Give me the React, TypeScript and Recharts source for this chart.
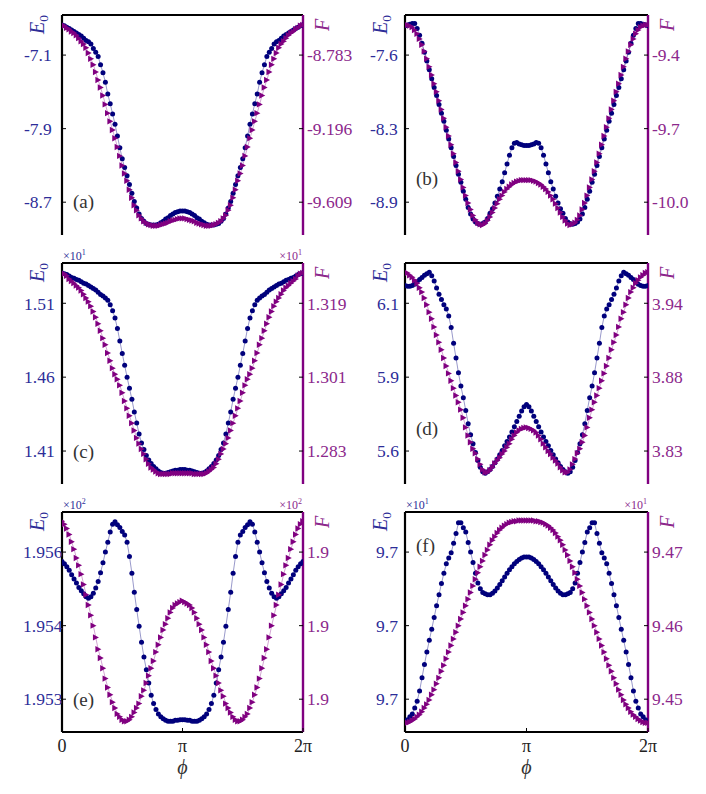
import React from 'react'
import { LineChart, Line, XAxis, YAxis, ReferenceLine } from 'recharts'

// phi grid: 101 samples over [0, 2pi]
const STEPS = 100
const phi = Array.from({ length: STEPS + 1 }, (_, k) => (2 * Math.PI * k) / STEPS)

// panel (a)
const e0A = [
  -6.772, -6.78, -6.796, -6.812, -6.828, -6.844, -6.86, -6.876, -6.892, -6.916,
  -6.94, -6.956, -6.98, -7.028, -7.068, -7.116, -7.204, -7.292, -7.396, -7.524,
  -7.628, -7.74, -7.852, -7.98, -8.108, -8.228, -8.324, -8.412, -8.508, -8.604,
  -8.692, -8.764, -8.828, -8.876, -8.908, -8.932, -8.94, -8.948, -8.948, -8.948,
  -8.94, -8.924, -8.908, -8.884, -8.868, -8.844, -8.828, -8.812, -8.804, -8.796,
  -8.796,
  -8.796, -8.804, -8.812, -8.828, -8.844, -8.868, -8.884, -8.908, -8.924, -8.94,
  -8.948, -8.948, -8.948, -8.94, -8.932, -8.908, -8.876, -8.828, -8.764, -8.692,
  -8.604, -8.508, -8.412, -8.324, -8.228, -8.108, -7.98, -7.852, -7.74, -7.628,
  -7.524, -7.396, -7.292, -7.204, -7.116, -7.068, -7.028, -6.98, -6.956, -6.94,
  -6.916, -6.892, -6.876, -6.86, -6.844, -6.828, -6.812, -6.796, -6.78, -6.772,
]
const fA = [
  -8.614, -8.618, -8.63, -8.638, -8.651, -8.659, -8.672, -8.688, -8.705, -8.721,
  -8.742, -8.771, -8.804, -8.837, -8.878, -8.923, -8.965, -9.01, -9.06, -9.109,
  -9.155, -9.204, -9.25, -9.299, -9.349, -9.403, -9.448, -9.489, -9.539, -9.584,
  -9.626, -9.654, -9.683, -9.7, -9.716, -9.725, -9.733, -9.737, -9.741, -9.741,
  -9.741, -9.737, -9.733, -9.729, -9.725, -9.716, -9.712, -9.708, -9.704, -9.7,
  -9.7,
  -9.7, -9.704, -9.708, -9.712, -9.716, -9.725, -9.729, -9.733, -9.737, -9.741,
  -9.741, -9.741, -9.737, -9.733, -9.725, -9.716, -9.7, -9.683, -9.654, -9.626,
  -9.584, -9.539, -9.489, -9.448, -9.403, -9.349, -9.299, -9.25, -9.204, -9.155,
  -9.109, -9.06, -9.01, -8.965, -8.923, -8.878, -8.837, -8.804, -8.771, -8.742,
  -8.721, -8.705, -8.688, -8.672, -8.659, -8.651, -8.638, -8.63, -8.618, -8.614,
]

// panel (b)
const e0B = [
  -7.308, -7.301, -7.294, -7.288, -7.288, -7.335, -7.396, -7.471, -7.553, -7.634,
  -7.716, -7.798, -7.879, -7.954, -8.036, -8.117, -8.192, -8.274, -8.355, -8.437,
  -8.518, -8.6, -8.682, -8.756, -8.838, -8.913, -8.988, -9.049, -9.096, -9.124,
  -9.137, -9.144, -9.137, -9.124, -9.09, -9.042, -9.001, -8.947, -8.886, -8.818,
  -8.75, -8.668, -8.586, -8.505, -8.437, -8.396, -8.389, -8.403, -8.41, -8.416,
  -8.416,
  -8.416, -8.41, -8.403, -8.389, -8.396, -8.437, -8.505, -8.586, -8.668, -8.75,
  -8.818, -8.886, -8.947, -9.001, -9.042, -9.09, -9.124, -9.137, -9.144, -9.137,
  -9.124, -9.096, -9.049, -8.988, -8.913, -8.838, -8.756, -8.682, -8.6, -8.518,
  -8.437, -8.355, -8.274, -8.192, -8.117, -8.036, -7.954, -7.879, -7.798, -7.716,
  -7.634, -7.553, -7.471, -7.396, -7.335, -7.288, -7.288, -7.294, -7.301, -7.308,
]
const fB = [
  -9.277, -9.277, -9.28, -9.286, -9.298, -9.313, -9.334, -9.358, -9.385, -9.415,
  -9.448, -9.481, -9.517, -9.55, -9.586, -9.622, -9.658, -9.694, -9.73, -9.766,
  -9.802, -9.838, -9.874, -9.907, -9.94, -9.973, -10.003, -10.03, -10.054, -10.072,
  -10.084, -10.09, -10.093, -10.087, -10.075, -10.06, -10.042, -10.024, -10.006, -9.988,
  -9.973, -9.958, -9.946, -9.937, -9.928, -9.922, -9.916, -9.913, -9.91, -9.91,
  -9.91,
  -9.91, -9.91, -9.913, -9.916, -9.922, -9.928, -9.937, -9.946, -9.958, -9.973,
  -9.988, -10.006, -10.024, -10.042, -10.06, -10.075, -10.087, -10.093, -10.09, -10.084,
  -10.072, -10.054, -10.03, -10.003, -9.973, -9.94, -9.907, -9.874, -9.838, -9.802,
  -9.766, -9.73, -9.694, -9.658, -9.622, -9.586, -9.55, -9.517, -9.481, -9.448,
  -9.415, -9.385, -9.358, -9.334, -9.313, -9.298, -9.286, -9.28, -9.277, -9.277,
]

// panel (c), in units of 10^1
const e0C = [
  1.5305, 1.53, 1.5295, 1.5285, 1.5275, 1.527, 1.526, 1.5255, 1.5245, 1.5235,
  1.523, 1.522, 1.521, 1.52, 1.519, 1.5175, 1.516, 1.515, 1.5135, 1.512,
  1.509, 1.505, 1.5, 1.493, 1.4845, 1.476, 1.468, 1.46, 1.4525, 1.445,
  1.4365, 1.429, 1.4215, 1.4155, 1.411, 1.407, 1.404, 1.4015, 1.3995, 1.398,
  1.3965, 1.3955, 1.395, 1.395, 1.3955, 1.396, 1.3965, 1.397, 1.397, 1.3975,
  1.3975,
  1.3975, 1.397, 1.397, 1.3965, 1.396, 1.3955, 1.395, 1.395, 1.3955, 1.3965,
  1.398, 1.3995, 1.4015, 1.404, 1.407, 1.411, 1.4155, 1.4215, 1.429, 1.4365,
  1.445, 1.4525, 1.46, 1.468, 1.476, 1.4845, 1.493, 1.5, 1.505, 1.509,
  1.512, 1.5135, 1.515, 1.516, 1.5175, 1.519, 1.52, 1.521, 1.522, 1.523,
  1.5235, 1.5245, 1.5255, 1.526, 1.527, 1.5275, 1.5285, 1.5295, 1.53, 1.5305,
]
const fC = [
  1.3264, 1.3262, 1.3257, 1.3249, 1.3244, 1.3239, 1.3233, 1.3228, 1.3221, 1.3212,
  1.3203, 1.3194, 1.3183, 1.317, 1.3156, 1.314, 1.3123, 1.3105, 1.3089, 1.3069,
  1.305, 1.3032, 1.3017, 1.3005, 1.299, 1.2972, 1.2952, 1.2934, 1.2916, 1.2898,
  1.288, 1.2862, 1.2848, 1.2835, 1.2823, 1.281, 1.2799, 1.279, 1.2785, 1.278,
  1.2776, 1.2774, 1.2774, 1.2774, 1.2774, 1.2774, 1.2776, 1.2776, 1.2776, 1.2776,
  1.2776,
  1.2776, 1.2776, 1.2776, 1.2776, 1.2774, 1.2774, 1.2774, 1.2774, 1.2774, 1.2776,
  1.278, 1.2785, 1.279, 1.2799, 1.281, 1.2823, 1.2835, 1.2848, 1.2862, 1.288,
  1.2898, 1.2916, 1.2934, 1.2952, 1.2972, 1.299, 1.3005, 1.3017, 1.3032, 1.305,
  1.3069, 1.3089, 1.3105, 1.3123, 1.314, 1.3156, 1.317, 1.3183, 1.3194, 1.3203,
  1.3212, 1.3221, 1.3228, 1.3233, 1.3239, 1.3244, 1.3249, 1.3257, 1.3262, 1.3264,
]

// panel (d)
const e0D = [
  6.158, 6.155, 6.155, 6.158, 6.162, 6.17, 6.177, 6.184, 6.191, 6.196,
  6.201, 6.189, 6.172, 6.15, 6.129, 6.112, 6.095, 6.081, 6.059, 6.021,
  5.97, 5.922, 5.874, 5.831, 5.793, 5.752, 5.709, 5.673, 5.644, 5.615,
  5.589, 5.567, 5.553, 5.548, 5.553, 5.56, 5.57, 5.582, 5.594, 5.608,
  5.622, 5.637, 5.651, 5.666, 5.682, 5.699, 5.716, 5.733, 5.75, 5.764,
  5.771,
  5.764, 5.75, 5.733, 5.716, 5.699, 5.682, 5.666, 5.651, 5.637, 5.622,
  5.608, 5.594, 5.582, 5.57, 5.56, 5.553, 5.548, 5.553, 5.567, 5.589,
  5.615, 5.644, 5.673, 5.709, 5.752, 5.793, 5.831, 5.874, 5.922, 5.97,
  6.021, 6.059, 6.081, 6.095, 6.112, 6.129, 6.15, 6.172, 6.189, 6.201,
  6.196, 6.191, 6.184, 6.177, 6.17, 6.162, 6.158, 6.155, 6.155, 6.158,
]
const fD = [
  3.9611, 3.9606, 3.9589, 3.9573, 3.9551, 3.9529, 3.9496, 3.9463, 3.9419, 3.9369,
  3.9314, 3.9265, 3.9204, 3.9144, 3.9089, 3.9034, 3.8973, 3.8913, 3.8858, 3.8803,
  3.8748, 3.8693, 3.8643, 3.8588, 3.8528, 3.8456, 3.8396, 3.8346, 3.8297, 3.8264,
  3.822, 3.8181, 3.8143, 3.8121, 3.8121, 3.8137, 3.8159, 3.8187, 3.8209, 3.8231,
  3.8258, 3.828, 3.8308, 3.8335, 3.8368, 3.8396, 3.8418, 3.8434, 3.8445, 3.8451,
  3.8456,
  3.8451, 3.8445, 3.8434, 3.8418, 3.8396, 3.8368, 3.8335, 3.8308, 3.828, 3.8258,
  3.8231, 3.8209, 3.8187, 3.8159, 3.8137, 3.8121, 3.8121, 3.8143, 3.8181, 3.822,
  3.8264, 3.8297, 3.8346, 3.8396, 3.8456, 3.8528, 3.8588, 3.8643, 3.8693, 3.8748,
  3.8803, 3.8858, 3.8913, 3.8973, 3.9034, 3.9089, 3.9144, 3.9204, 3.9265, 3.9314,
  3.9369, 3.9419, 3.9463, 3.9496, 3.9529, 3.9551, 3.9573, 3.9589, 3.9606, 3.9611,
]

// panel (e), in units of 10^2
const e0E = [
  1.95561, 1.95556, 1.9555, 1.95543, 1.95534, 1.95525, 1.95517, 1.95508, 1.95501, 1.95495,
  1.95489, 1.95486, 1.95489, 1.95496, 1.95507, 1.9552, 1.95538, 1.95558, 1.9558, 1.956,
  1.95621, 1.95637, 1.95642, 1.95636, 1.9563, 1.95622, 1.95615, 1.956, 1.95571, 1.95537,
  1.95498, 1.95463, 1.95429, 1.95396, 1.95366, 1.9534, 1.95313, 1.95288, 1.95271, 1.95259,
  1.9525, 1.95244, 1.9524, 1.95237, 1.95235, 1.95235, 1.95235, 1.95237, 1.95237, 1.95238,
  1.95238,
  1.95238, 1.95237, 1.95237, 1.95235, 1.95235, 1.95235, 1.95237, 1.9524, 1.95244, 1.9525,
  1.95259, 1.95271, 1.95288, 1.95313, 1.9534, 1.95366, 1.95396, 1.95429, 1.95463, 1.95498,
  1.95537, 1.95571, 1.956, 1.95615, 1.95622, 1.9563, 1.95636, 1.95642, 1.95637, 1.95621,
  1.956, 1.9558, 1.95558, 1.95538, 1.9552, 1.95507, 1.95496, 1.95489, 1.95486, 1.95489,
  1.95495, 1.95501, 1.95508, 1.95517, 1.95525, 1.95534, 1.95543, 1.9555, 1.95556, 1.95561,
]
const fE = [
  1.90041, 1.90039, 1.90036, 1.90032, 1.90027, 1.90022, 1.90016, 1.90011, 1.90005, 1.89998,
  1.89991, 1.89984, 1.89977, 1.8997, 1.89962, 1.89954, 1.89948, 1.89941, 1.89934, 1.89928,
  1.89923, 1.89918, 1.89914, 1.8991, 1.89908, 1.89906, 1.89905, 1.89905, 1.89906, 1.89908,
  1.89911, 1.89914, 1.89917, 1.89922, 1.89926, 1.89931, 1.89936, 1.89941, 1.89946, 1.89952,
  1.89957, 1.89962, 1.89967, 1.89971, 1.89975, 1.89979, 1.89982, 1.89984, 1.89985, 1.89986,
  1.89987,
  1.89986, 1.89985, 1.89984, 1.89982, 1.89979, 1.89975, 1.89971, 1.89967, 1.89962, 1.89957,
  1.89952, 1.89946, 1.89941, 1.89936, 1.89931, 1.89926, 1.89922, 1.89917, 1.89914, 1.89911,
  1.89908, 1.89906, 1.89905, 1.89905, 1.89906, 1.89908, 1.8991, 1.89914, 1.89918, 1.89923,
  1.89928, 1.89934, 1.89941, 1.89948, 1.89954, 1.89962, 1.8997, 1.89977, 1.89984, 1.89991,
  1.89998, 1.90005, 1.90011, 1.90016, 1.90022, 1.90027, 1.90032, 1.90036, 1.90039, 1.90041,
]

// panel (f), in units of 10^1
const e0F = [
  9.69525, 9.6953, 9.6954, 9.6955, 9.6957, 9.69593, 9.69628, 9.69673, 9.69718, 9.6976,
  9.698, 9.69838, 9.69878, 9.69918, 9.69955, 9.69993, 9.70028, 9.7006, 9.7008, 9.70098,
  9.7013, 9.70163, 9.702, 9.702, 9.70183, 9.70168, 9.70133, 9.701, 9.70065, 9.70028,
  9.69995, 9.69975, 9.69963, 9.69958, 9.69955, 9.69955, 9.6996, 9.69968, 9.69978, 9.6999,
  9.70003, 9.70015, 9.70028, 9.7004, 9.7005, 9.7006, 9.70068, 9.70075, 9.7008, 9.70083,
  9.70083,
  9.70083, 9.7008, 9.70075, 9.70068, 9.7006, 9.7005, 9.7004, 9.70028, 9.70015, 9.70003,
  9.6999, 9.69978, 9.69968, 9.6996, 9.69955, 9.69955, 9.69958, 9.69963, 9.69975, 9.69995,
  9.70028, 9.70065, 9.701, 9.70133, 9.70168, 9.70183, 9.702, 9.702, 9.70163, 9.7013,
  9.70098, 9.7008, 9.7006, 9.70028, 9.69993, 9.69955, 9.69918, 9.69878, 9.69838, 9.698,
  9.6976, 9.69718, 9.69673, 9.69628, 9.69593, 9.6957, 9.6955, 9.6954, 9.6953, 9.69525,
]
const fF = [
  9.4468, 9.4468, 9.4469, 9.4471, 9.4473, 9.4476, 9.4479, 9.4483, 9.4488, 9.4493,
  9.4499, 9.4506, 9.4513, 9.4521, 9.4529, 9.4538, 9.4546, 9.4555, 9.4564, 9.4573,
  9.4582, 9.4591, 9.46, 9.4609, 9.4618, 9.4627, 9.4636, 9.4645, 9.4654, 9.4663,
  9.4672, 9.468, 9.4688, 9.4696, 9.4703, 9.471, 9.4716, 9.4721, 9.4726, 9.473,
  9.4733, 9.4736, 9.4738, 9.474, 9.4741, 9.4742, 9.4742, 9.4743, 9.4743, 9.4743,
  9.4743,
  9.4743, 9.4743, 9.4743, 9.4742, 9.4742, 9.4741, 9.474, 9.4738, 9.4736, 9.4733,
  9.473, 9.4726, 9.4721, 9.4716, 9.471, 9.4703, 9.4696, 9.4688, 9.468, 9.4672,
  9.4663, 9.4654, 9.4645, 9.4636, 9.4627, 9.4618, 9.4609, 9.46, 9.4591, 9.4582,
  9.4573, 9.4564, 9.4555, 9.4546, 9.4538, 9.4529, 9.4521, 9.4513, 9.4506, 9.4499,
  9.4493, 9.4488, 9.4483, 9.4479, 9.4476, 9.4473, 9.4471, 9.4469, 9.4468, 9.4468,
]

// tick values (labels are these values rounded)
const ticksE0A = [-8.7, -7.9, -7.1]
const ticksFA = [-9.609, -9.196, -8.783]
const ticksE0B = [-8.94, -8.26, -7.58]
const ticksFB = [-10.0, -9.7, -9.4]
const ticksE0C = [1.41, 1.46, 1.51]
const ticksFC = [1.283, 1.301, 1.319]
const ticksE0D = [5.62, 5.86, 6.1]
const ticksFD = [3.828, 3.883, 3.938]
const ticksE0E = [1.9528, 1.9543, 1.9558]
const ticksFE = [1.8992, 1.8997, 1.9002]
const ticksE0F = [9.696, 9.6985, 9.701]
const ticksFF = [9.45, 9.46, 9.47]

const xTicks = [0, Math.PI, 2 * Math.PI]
const xTickLabels = ['0', 'π', '2π']

const NAVY = '#00007c'
const NAVY_TEXT = '#2d2d98'
const PURPLE = '#800080'
const PURPLE_TEXT = '#8c288c'
const FONT = '"Liberation Serif", "DejaVu Serif", serif'

const ROWS = [
  { top: 0, h: 248, plotH: 220, bottomH: 0 },
  { top: 248, h: 249, plotH: 221, bottomH: 0 },
  { top: 497, h: 297, plotH: 220, bottomH: 55 },
]
const COLS = [
  { left: 0, lw: 62, pw: 241, rw: 50 },
  { left: 353, lw: 52, pw: 243, rw: 58 },
]
const TOP = 15

const panels = [
  { letter: 'a', e0: e0A, f: fA, tl: ticksE0A, tr: ticksFA, dl: 1, dr: 3, row: 0, col: 0, labelX: 24, letterDy: 193, exp: '' },
  { letter: 'b', e0: e0B, f: fB, tl: ticksE0B, tr: ticksFB, dl: 1, dr: 1, row: 0, col: 1, labelX: 370, letterDy: 170, exp: '' },
  { letter: 'c', e0: e0C, f: fC, tl: ticksE0C, tr: ticksFC, dl: 2, dr: 3, row: 1, col: 0, labelX: 24, letterDy: 195, exp: '1' },
  { letter: 'd', e0: e0D, f: fD, tl: ticksE0D, tr: ticksFD, dl: 1, dr: 2, row: 1, col: 1, labelX: 377, letterDy: 172, exp: '' },
  { letter: 'e', e0: e0E, f: fE, tl: ticksE0E, tr: ticksFE, dl: 3, dr: 1, row: 2, col: 0, labelX: 23, letterDy: 194, exp: '2' },
  { letter: 'f', e0: e0F, f: fF, tl: ticksE0F, tr: ticksFF, dl: 1, dr: 2, row: 2, col: 1, labelX: 376, letterDy: 40, exp: '1' },
]

function domainOf(t: number[]): [number, number] {
  const d = t[1] - t[0]
  return [t[0] - 0.446 * d, t[0] + 2.545 * d]
}

function Triangle(props: any) {
  const { cx, cy, index } = props
  if (cx == null || cy == null) return <g key={`t${index}`} />
  return (
    <path
      key={`t${index}`}
      d={`M${cx - 2.8},${cy - 3.2} L${cx + 3.2},${cy} L${cx - 2.8},${cy + 3.2} Z`}
      fill={PURPLE}
    />
  )
}

function Panel({ p }: { p: (typeof panels)[number] }) {
  const row = ROWS[p.row]
  const col = COLS[p.col]
  const fl = col.lw
  const fr = col.lw + col.pw
  const ft = TOP
  const fb = TOP + row.plotH
  const isBottom = row.bottomH > 0
  const data = phi.map((x, k) => ({ phi: x, e0: p.e0[k], f: p.f[k] }))
  const frameLine = { stroke: '#000', strokeWidth: 2.2 }
  const domL = domainOf(p.tl)

  const leftTick = (tp: any) => (
    <g>
      <line x1={tp.x} x2={tp.x + 4} y1={tp.y} y2={tp.y} stroke="#000" strokeWidth={1} />
      <text x={p.labelX - col.left} y={tp.y} dy="0.36em" fill={NAVY_TEXT} fontSize={17.5} fontFamily={FONT}>
        {Number(tp.payload.value).toFixed(p.dl)}
      </text>
    </g>
  )
  const rightTick = (tp: any) => (
    <g>
      <line x1={tp.x - 4} x2={tp.x} y1={tp.y} y2={tp.y} stroke="#000" strokeWidth={1} />
      <text x={tp.x + 4} y={tp.y} dy="0.36em" fill={PURPLE_TEXT} fontSize={17.5} fontFamily={FONT}>
        {Number(tp.payload.value).toFixed(p.dr)}
      </text>
    </g>
  )
  const bottomTick = (tp: any) => (
    <g>
      <line x1={tp.x} x2={tp.x} y1={tp.y} y2={tp.y - 4} stroke="#000" strokeWidth={1} />
      {isBottom && (
        <text x={tp.x} y={tp.y + 20} textAnchor="middle" fill="#222" fontSize={18} fontFamily={FONT}>
          {xTickLabels[tp.index]}
        </text>
      )}
    </g>
  )

  const leftDecor = () => (
    <g fontFamily={FONT}>
      <text transform={`translate(${fl - 18},${ft + 19}) rotate(-90)`} fill={NAVY_TEXT} fontSize={20}>
        <tspan fontStyle="italic">E</tspan>
        <tspan fontSize={13.5} dy={4}>0</tspan>
      </text>
      {p.exp && (
        <text x={fl + 1} y={ft - 3} fill={NAVY_TEXT} fontSize={12}>
          ×10<tspan fontSize={8} dy={-5}>{p.exp}</tspan>
        </text>
      )}
      <text x={fl + 11} y={ft + p.letterDy} fill="#333" fontSize={19}>
        ({p.letter})
      </text>
    </g>
  )
  const rightDecor = () => (
    <g fontFamily={FONT}>
      <text transform={`translate(${fr + 26},${ft + 16}) rotate(-90)`} fill={PURPLE_TEXT} fontSize={20} fontStyle="italic">
        F
      </text>
      {p.exp && (
        <text x={fr - 1} y={ft - 3} fill={PURPLE_TEXT} fontSize={12} textAnchor="end">
          ×10<tspan fontSize={8} dy={-5}>{p.exp}</tspan>
        </text>
      )}
    </g>
  )
  const bottomDecor = () =>
    isBottom ? (
      <text x={(fl + fr) / 2} y={fb + 42} textAnchor="middle" fill="#333" fontSize={20} fontStyle="italic" fontFamily={FONT}>
        ϕ
      </text>
    ) : (
      <g />
    )

  return (
    <div style={{ position: 'absolute', left: col.left, top: row.top }}>
      <LineChart
        width={col.lw + col.pw + col.rw}
        height={row.h}
        data={data}
        margin={{ top: TOP, right: 0, left: 0, bottom: row.h - TOP - row.plotH - row.bottomH }}
      >
        <XAxis
          xAxisId="b"
          dataKey="phi"
          type="number"
          domain={[0, 2 * Math.PI]}
          allowDataOverflow
          ticks={xTicks}
          interval={0}
          height={row.bottomH}
          tickSize={0}
          tickMargin={0}
          tickLine={false}
          axisLine={frameLine}
          tick={bottomTick}
          label={bottomDecor}
        />
        <YAxis
          yAxisId="L"
          orientation="left"
          width={col.lw}
          type="number"
          domain={domL}
          allowDataOverflow
          ticks={p.tl}
          interval={0}
          tickSize={0}
          tickMargin={0}
          tickLine={false}
          axisLine={frameLine}
          tick={leftTick}
          label={leftDecor}
        />
        <YAxis
          yAxisId="R"
          orientation="right"
          width={col.rw}
          type="number"
          domain={domainOf(p.tr)}
          allowDataOverflow
          ticks={p.tr}
          interval={0}
          tickSize={0}
          tickMargin={0}
          tickLine={false}
          axisLine={{ stroke: PURPLE, strokeWidth: 2.4 }}
          tick={rightTick}
          label={rightDecor}
        />
        {/* top edge of the frame */}
        <ReferenceLine xAxisId="b" yAxisId="L" y={domL[1]} stroke="#000" strokeWidth={2.2} ifOverflow="visible" />
        <Line
          xAxisId="b"
          yAxisId="L"
          dataKey="e0"
          type="linear"
          stroke={NAVY}
          strokeOpacity={0.5}
          strokeWidth={0.8}
          dot={{ r: 2.5, fill: NAVY, stroke: 'none', strokeWidth: 0 }}
          activeDot={false}
          isAnimationActive={false}
        />
        <Line
          xAxisId="b"
          yAxisId="R"
          dataKey="f"
          type="linear"
          stroke={PURPLE}
          strokeOpacity={0.45}
          strokeWidth={0.8}
          dot={Triangle}
          activeDot={false}
          isAnimationActive={false}
        />
      </LineChart>
    </div>
  )
}

export default function App() {
  return (
    <div
      style={{
        position: 'absolute',
        left: 0,
        top: 0,
        width: 706,
        height: 794,
        background: '#fff',
        fontFamily: FONT,
      }}
    >
      {panels.map((p) => (
        <Panel key={p.letter} p={p} />
      ))}
    </div>
  )
}
